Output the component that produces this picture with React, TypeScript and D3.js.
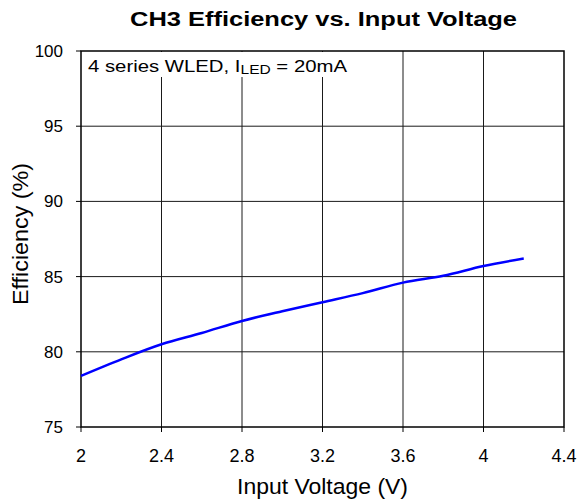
import * as d3 from 'd3';

const voltages = [2.0, 2.2, 2.4, 2.6, 2.8, 3.0, 3.2, 3.4, 3.6, 3.8, 4.0, 4.2];
const efficiency = [78.4, 79.5, 80.5, 81.25, 82.05, 82.7, 83.3, 83.9, 84.6, 85.05, 85.7, 86.2];
const xTicks = [2, 2.4, 2.8, 3.2, 3.6, 4, 4.4];
const yTicks = [75, 80, 85, 90, 95, 100];

export default function App() {
  const width = 578;
  const height = 502;
  const left = 81, right = 564, top = 51, bottom = 427;

  const x = d3.scaleLinear().domain([2, 4.4]).range([left, right]);
  const y = d3.scaleLinear().domain([75, 100]).range([bottom, top]);

  const line = d3.line<number>()
    .x((_, i) => x(voltages[i]))
    .y(d => y(d))
    .curve(d3.curveMonotoneX);

  const font = 'Liberation Sans, Arial, sans-serif';

  return (
    <svg width={width} height={height} style={{ position: 'absolute', left: 0, top: 0 }} fontFamily={font}>
      <rect width={width} height={height} fill="white" />
      <text x={130} y={26} fontSize={20} fontWeight="bold" textLength={387} lengthAdjust="spacingAndGlyphs">
        CH3 Efficiency vs. Input Voltage
      </text>

      {/* grid */}
      {xTicks.slice(1, -1).map(t => (
        <line key={'gx' + t} x1={x(t)} x2={x(t)} y1={top} y2={bottom} stroke="#1a1a1a" strokeWidth={1} />
      ))}
      {yTicks.slice(1, -1).map(t => (
        <line key={'gy' + t} x1={left} x2={right} y1={y(t)} y2={y(t)} stroke="#1a1a1a" strokeWidth={1} />
      ))}

      {/* ticks */}
      {xTicks.map(t => (
        <line key={'tx' + t} x1={x(t)} x2={x(t)} y1={bottom} y2={bottom + 5} stroke="#000" />
      ))}
      {yTicks.map(t => (
        <line key={'ty' + t} x1={left - 5} x2={left} y1={y(t)} y2={y(t)} stroke="#000" />
      ))}

      {/* note box */}
      <rect x={left + 1} y={top + 1} width={272} height={25} fill="white" />

      <rect x={left} y={top} width={right - left} height={bottom - top} fill="none" stroke="#000" strokeWidth={1.5} />

      <path d={line(efficiency) ?? ''} fill="none" stroke="#0000ff" strokeWidth={2.5} />

      <text x={88} y={72} fontSize={17} textLength={259} lengthAdjust="spacingAndGlyphs">
        4 series WLED, I<tspan fontSize={13} dy={2}>LED</tspan><tspan dy={-2}> = 20mA</tspan>
      </text>

      {xTicks.map(t => (
        <text key={'lx' + t} x={x(t)} y={bottom + 35} textAnchor="middle" fontSize={18}>
          {d3.format('~g')(t)}
        </text>
      ))}
      {yTicks.map(t => (
        <text key={'ly' + t} x={left - 18} y={y(t) + 6} textAnchor="end" fontSize={17}>
          {t}
        </text>
      ))}

      <text x={237} y={494} fontSize={22} textLength={171} lengthAdjust="spacingAndGlyphs">
        Input Voltage (V)
      </text>
      <text transform="translate(28, 305) rotate(-90)" fontSize={22} textLength={142} lengthAdjust="spacingAndGlyphs">
        Efficiency (%)
      </text>
    </svg>
  );
}
